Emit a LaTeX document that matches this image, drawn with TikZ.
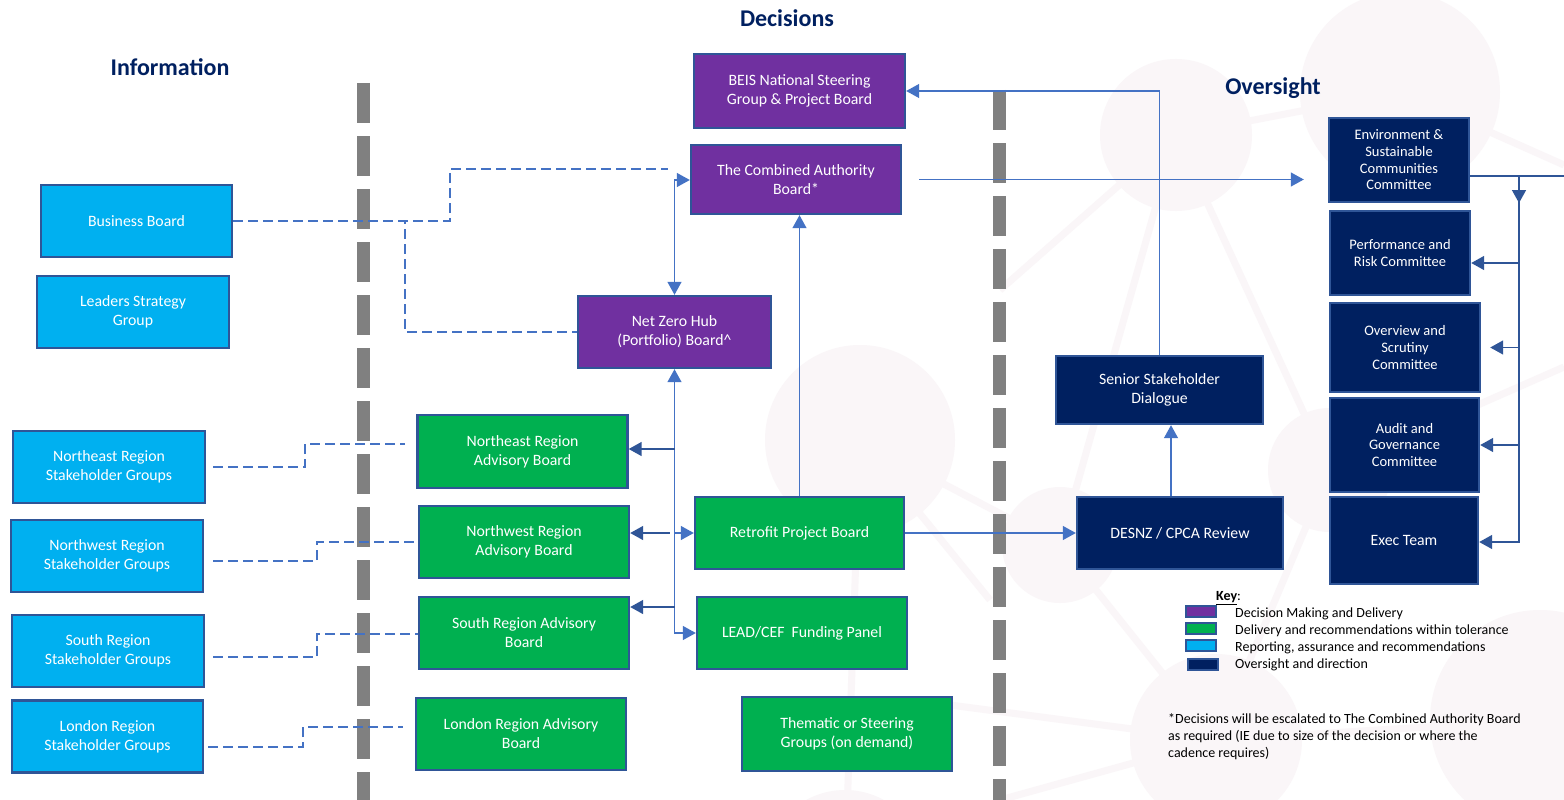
\documentclass[tikz,border=0pt]{standalone}
\usepackage{fontspec}
\setmainfont{Carlito}
\usetikzlibrary{arrows.meta}
\definecolor{purp}{HTML}{7030A0}
\definecolor{grn}{HTML}{00B050}
\definecolor{cyn}{HTML}{00B0F0}
\definecolor{navy}{HTML}{002060}
\definecolor{bord}{HTML}{2F5597}
\definecolor{conc}{HTML}{4472C4}
\definecolor{darkc}{HTML}{2F5597}
\definecolor{divc}{HTML}{808080}
\definecolor{bgc}{RGB}{250,246,248}
\tikzset{
  box/.style={draw=bord, line width=2.4pt, inner sep=2pt, align=center, text=white, font=\fontsize{15.8}{19}\selectfont},
  pbox/.style={box, fill=purp},
  gbox/.style={box, fill=grn},
  cbox/.style={box, fill=cyn},
  nbox/.style={box, fill=navy},
  combox/.style={nbox, font=\fontsize{14.5}{16.7}\selectfont},
  conn/.style={draw=conc, line width=1.3pt},
  dconn/.style={draw=darkc, line width=1.5pt},
  dashline/.style={draw=conc, line width=1.2pt, dash pattern=on 10pt off 5pt},
  tip/.style={-{Triangle[width=14pt,length=13pt]}},
  tipb/.style={{Triangle[width=14pt,length=13pt]}-{Triangle[width=14pt,length=13pt]}},
  divider/.style={draw=divc, line width=13pt, dash pattern=on 40pt off 13pt},
  heading/.style={text=navy, font=\fontsize{24}{28}\selectfont\bfseries},
  keytext/.style={anchor=west, font=\fontsize{14}{16}\selectfont, inner sep=0pt},
  swatch/.style={draw=bord, line width=1.6pt},
  bgline/.style={draw=bgc, line width=7pt},
}
\begin{document}
\begin{tikzpicture}[x=1pt,y=-1pt]
\useasboundingbox (0,0) rectangle (1564,800);
\fill[white] (0,0) rectangle (1564,800);
% background network
\begin{scope}
\draw[bgline] (1176,135) -- (1400,92);
\draw[bgline] (1176,135) -- (1000,290);
\draw[bgline] (1176,135) -- (1060,545);
\draw[bgline] (1176,135) -- (1330,470);
\draw[bgline] (1400,92) -- (1564,165);
\draw[bgline] (1330,470) -- (1564,367);
\draw[bgline] (1330,470) -- (1216,740);
\draw[bgline] (1060,545) -- (1216,740);
\draw[bgline] (1216,740) -- (1540,720);
\draw[bgline] (1216,740) -- (950,705);
\draw[bgline] (1216,740) -- (1000,800);
\draw[bgline] (860,440) -- (845,870);
\draw[bgline] (860,440) -- (1060,545);
\draw[bgline] (860,440) -- (990,600);
\fill[bgc] (1176,135) circle (76);
\fill[bgc] (1400,92) circle (100);
\fill[bgc] (1330,470) circle (62);
\fill[bgc] (1060,545) circle (58);
\fill[bgc] (1216,740) circle (86);
\fill[bgc] (1540,720) circle (110);
\fill[bgc] (860,440) circle (95);
\fill[bgc] (845,870) circle (80);
\end{scope}
% dividers
\draw[divider] (363,83) -- (363,800);
\draw[divider] (999,90) -- (999,800);
% headings
\node[heading] (hdec) at (787,18) {Decisions};
\node[heading] (hinf) at (170,67) {Information};
\node[heading] (hovs) at (1273,88) {Oversight};
% information column
\node[cbox, minimum width=191pt, minimum height=72pt] (BB) at (136.5,221) {Business Board};
\node[cbox, minimum width=192pt, minimum height=72pt] (LSG) at (133,312) {Leaders Strategy\\Group};
\node[cbox, minimum width=192pt, minimum height=72pt] (NES) at (109,467) {Northeast Region\\Stakeholder Groups};
\node[cbox, minimum width=192pt, minimum height=72pt] (NWS) at (107,556) {Northwest Region\\Stakeholder Groups};
\node[cbox, minimum width=192pt, minimum height=72pt] (SS) at (108,651) {South Region\\Stakeholder Groups};
\node[cbox, minimum width=191pt, minimum height=72pt] (LS) at (107.5,736.5) {London Region\\Stakeholder Groups};
% decisions column
\node[pbox, minimum width=211pt, minimum height=74pt] (BEIS) at (799.5,91) {BEIS National Steering\\Group \& Project Board};
\node[pbox, minimum width=210pt, minimum height=69pt] (CA) at (796,179.5) {The Combined Authority\\Board*};
\node[pbox, minimum width=193pt, minimum height=72pt] (NZH) at (674.5,332) {Net Zero Hub\\(Portfolio) Board\textasciicircum};
\node[gbox, minimum width=210pt, minimum height=73pt] (NEA) at (522.5,451.5) {Northeast Region\\Advisory Board};
\node[gbox, minimum width=210pt, minimum height=72pt] (NWA) at (524,542) {Northwest Region\\Advisory Board};
\node[gbox, minimum width=210pt, minimum height=72pt] (SRA) at (524,633) {South Region Advisory\\Board};
\node[gbox, minimum width=210pt, minimum height=72pt] (LRA) at (521,734) {London Region Advisory\\Board};
\node[gbox, minimum width=209pt, minimum height=72pt] (RPB) at (799.5,533) {Retrofit Project Board};
\node[gbox, minimum width=210pt, minimum height=72pt] (LEAD) at (802,633) {LEAD/CEF\ \ Funding Panel};
\node[gbox, minimum width=210pt, minimum height=74pt] (TSG) at (847,734) {Thematic or Steering\\Groups (on demand)};
% oversight column
\node[nbox, minimum width=207pt, minimum height=68pt] (SSD) at (1159.5,390) {Senior Stakeholder\\Dialogue};
\node[nbox, minimum width=206pt, minimum height=72pt] (DES) at (1180,533) {DESNZ / CPCA Review};
\node[combox, minimum width=140pt, minimum height=84pt] (ENV) at (1399,160) {Environment \&\\Sustainable\\Communities\\Committee};
\node[combox, minimum width=140pt, minimum height=84pt] (PRC) at (1400,253) {Performance and\\Risk Committee};
\node[combox, minimum width=150pt, minimum height=89pt] (OSC) at (1405,347.5) {Overview and\\Scrutiny\\Committee};
\node[combox, minimum width=149pt, minimum height=94pt] (AGC) at (1404.5,445) {Audit and\\Governance\\Committee};
\node[nbox, minimum width=148pt, minimum height=87pt] (EXEC) at (1404,540.5) {Exec Team};
% dashed information links
\draw[dashline] (BB.east) -- (450,221) |- ([xshift=-22pt,yshift=10.5pt]CA.west);
\draw[dashline] (BB.east) -| (405,332) -- (NZH.west);
\coordinate (ne1) at (213,467);
\coordinate (nw1) at (213,561);
\coordinate (so1) at (213,657);
\coordinate (lo1) at (208,747);
\draw[dashline] (ne1) -- (305,467) |- ([xshift=-11pt,yshift=7.5pt]NEA.west);
\draw[dashline] (nw1) -- (317,561) |- ([yshift=0pt]NWA.west);
\draw[dashline] (so1) -- (317,657) |- ([yshift=-1pt]SRA.west);
\draw[dashline] (lo1) -- (303,747) |- ([xshift=-12pt,yshift=7pt]LRA.west);
% hub links
\draw[conn, tipb] (CA.west |- 0,180) -| (NZH.north);
\draw[conn, tipb] (NZH.south) |- (LEAD.west);
\coordinate (sb) at (674.5,607);
\draw[dconn, tip] (NZH.south |- 0,449) -- (NEA.east |- 0,449);
\draw[dconn, tip] ([xshift=-5pt]NZH.south |- RPB.west) -- (RPB.west -| NWA.east);
\draw[conn, tip] (NZH.south |- RPB.west) -- (RPB.west);
\draw[dconn, tip] (sb) -- (sb -| SRA.east);
\draw[conn, tip] (RPB.north) -- (RPB.north |- CA.south);
\draw[conn, tip] (RPB.east) -- (DES.west);
\draw[conn, tip] ([xshift=-9pt]DES.north) -- ([xshift=-9pt]DES.north |- SSD.south);
\draw[conn, tip] (SSD.north) |- (BEIS.east);
\draw[conn, tip, shorten <=17pt, shorten >=24pt] (CA.east) -- (CA.east -| ENV.west);
% oversight links
\coordinate (cj) at (1519,176);
\coordinate (cr) at (1564,176);
\draw[dconn] (cj -| ENV.east) -- (cr);
\draw[dconn, tip] (cj) |- ([yshift=-1.5pt]EXEC.east);
\draw[dconn, tip] (cj) -- ++(0,27);
\draw[dconn, tip] (cj |- 0,263) -- (PRC.east |- 0,263);
\draw[dconn, tip, shorten >=9pt] (cj |- OSC.east) -- (OSC.east);
\draw[dconn, tip] (cj |- AGC.east) -- (AGC.east);
% key
\node[keytext] (keyh) at (1216,598) {\textbf{\underline{Key}}:};
\draw[swatch, fill=purp] (1186,606) rectangle (1216,617);
\draw[swatch, fill=grn] (1186,623) rectangle (1216,634);
\draw[swatch, fill=cyn] (1186,640) rectangle (1216,651);
\draw[swatch, fill=navy] (1188,659) rectangle (1218,670);
\node[keytext] (k1) at (1235,614) {Decision Making and Delivery};
\node[keytext] (k2) at (1235,631) {Delivery and recommendations within tolerance};
\node[keytext] (k3) at (1235,648) {Reporting, assurance and recommendations};
\node[keytext] (k4) at (1235,665) {Oversight and direction};
\node[anchor=north west, align=left, inner sep=0pt, font=\fontsize{14}{17}\selectfont] (foot) at (1168,713) {*Decisions will be escalated to The Combined Authority Board\\as required (IE due to size of the decision or where the\\cadence requires)};
\end{tikzpicture}
\end{document}
